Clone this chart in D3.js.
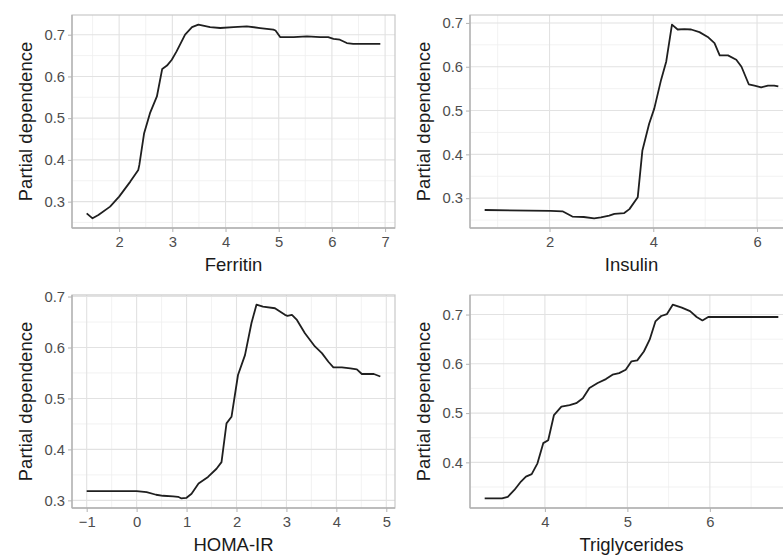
<!DOCTYPE html>
<html><head><meta charset="utf-8">
<script src="https://cdn.jsdelivr.net/npm/d3@7"></script>
<style>body{margin:0;background:#fff;} svg{display:block;font-family:"Liberation Sans",Arial,sans-serif;}</style>
</head><body><svg id="chart" width="783" height="555"></svg>
<script>
// ---- data ----
const ferritinX = [1.39,1.50,1.61,1.83,2.00,2.21,2.36,2.38,2.47,2.58,2.71,2.81,2.90,2.99,3.08,3.24,3.37,3.49,3.71,3.90,4.15,4.40,4.65,4.90,4.94,5.03,5.28,5.53,5.78,5.93,6.03,6.15,6.28,6.40,6.91];
const ferritinY = [0.272,0.260,0.268,0.288,0.312,0.348,0.376,0.388,0.464,0.512,0.552,0.618,0.626,0.640,0.660,0.700,0.718,0.724,0.718,0.716,0.718,0.720,0.716,0.712,0.710,0.694,0.694,0.696,0.694,0.694,0.690,0.688,0.680,0.678,0.678];

const insulinX = [0.75,2.02,2.25,2.44,2.66,2.86,2.99,3.15,3.25,3.44,3.54,3.70,3.79,3.92,4.02,4.15,4.25,4.36,4.47,4.60,4.73,4.89,5.05,5.18,5.28,5.44,5.60,5.70,5.84,5.95,6.08,6.21,6.33,6.41];
const insulinY = [0.273,0.271,0.270,0.258,0.257,0.254,0.256,0.260,0.264,0.266,0.275,0.302,0.409,0.470,0.505,0.570,0.612,0.696,0.685,0.686,0.685,0.679,0.668,0.654,0.626,0.626,0.616,0.600,0.560,0.557,0.553,0.557,0.557,0.555];

const homaX = [-1.00,0.00,0.20,0.39,0.53,0.73,0.83,0.89,1.00,1.10,1.24,1.43,1.60,1.70,1.80,1.90,2.03,2.17,2.30,2.40,2.53,2.77,2.97,3.02,3.11,3.21,3.37,3.57,3.71,3.84,3.94,4.11,4.28,4.41,4.51,4.75,4.88];
const homaY = [0.318,0.318,0.316,0.311,0.309,0.308,0.307,0.304,0.305,0.313,0.333,0.346,0.362,0.375,0.451,0.464,0.546,0.585,0.648,0.684,0.680,0.677,0.664,0.662,0.664,0.654,0.628,0.602,0.589,0.572,0.561,0.561,0.559,0.557,0.548,0.548,0.543];

const trigX = [3.27,3.48,3.55,3.63,3.71,3.77,3.84,3.91,3.98,4.04,4.11,4.20,4.30,4.38,4.46,4.54,4.64,4.74,4.82,4.90,4.98,5.05,5.12,5.20,5.27,5.34,5.41,5.48,5.55,5.66,5.76,5.84,5.91,5.98,6.83];
const trigY = [0.327,0.327,0.330,0.344,0.361,0.371,0.376,0.398,0.439,0.445,0.496,0.513,0.516,0.520,0.530,0.551,0.561,0.569,0.578,0.581,0.588,0.605,0.607,0.625,0.649,0.686,0.697,0.701,0.720,0.714,0.707,0.695,0.688,0.695,0.695];

const xTitles = ["Ferritin","Insulin","HOMA-IR","Triglycerides"];
const yTitle = "Partial dependence";
const ferritinXTicks = [2,3,4,5,6,7];
const insulinXTicks = [2,4,6];
const homaXTicks = [-1,0,1,2,3,4,5];
const trigXTicks = [4,5,6];
const ferritinYTicks = [0.3,0.4,0.5,0.6,0.7];
const insulinYTicks = [0.3,0.4,0.5,0.6,0.7];
const homaYTicks = [0.3,0.4,0.5,0.6,0.7];
const trigYTicks = [0.4,0.5,0.6,0.7];

// ---- layout ----
const panels = [
  {x: ferritinX, y: ferritinY, xt: ferritinXTicks, yt: ferritinYTicks, title: xTitles[0], left: 72, top: 15},
  {x: insulinX, y: insulinY, xt: insulinXTicks, yt: insulinYTicks, title: xTitles[1], left: 470, top: 15},
  {x: homaX, y: homaY, xt: homaXTicks, yt: homaYTicks, title: xTitles[2], left: 72, top: 295},
  {x: trigX, y: trigY, xt: trigXTicks, yt: trigYTicks, title: xTitles[3], left: 470, top: 295}
];
const PW = 323, PH = 213;
const svg = d3.select("#chart");
svg.append("rect").attr("width",783).attr("height",555).attr("fill","#fff");

function expand(ext){ const d = ext[1]-ext[0]; return [ext[0]-0.05*d, ext[1]+0.05*d]; }
function minors(ticks, dom){
  const step = ticks[1]-ticks[0];
  const all = [ticks[0]-step, ...ticks, ticks[ticks.length-1]+step];
  const m = [];
  for(let i=0;i<all.length-1;i++){ const v=(all[i]+all[i+1])/2; if(v>=dom[0]&&v<=dom[1]) m.push(v); }
  return m;
}

panels.forEach(p => {
  const xd = expand(d3.extent(p.x)), yd = expand(d3.extent(p.y));
  const xs = d3.scaleLinear().domain(xd).range([0, PW]);
  const ys = d3.scaleLinear().domain(yd).range([PH, 0]);
  const g = svg.append("g").attr("transform", `translate(${p.left},${p.top})`);
  const xt = p.xt.filter(v => v>=xd[0] && v<=xd[1]);
  const yt = p.yt.filter(v => v>=yd[0] && v<=yd[1]);
  // minor grid
  g.selectAll(".mx").data(minors(p.xt, xd)).join("line")
    .attr("x1", d=>xs(d)).attr("x2", d=>xs(d)).attr("y1",0).attr("y2",PH)
    .attr("stroke","#efefef").attr("stroke-width",0.8);
  g.selectAll(".my").data(minors(p.yt, yd)).join("line")
    .attr("y1", d=>ys(d)).attr("y2", d=>ys(d)).attr("x1",0).attr("x2",PW)
    .attr("stroke","#efefef").attr("stroke-width",0.8);
  // major grid
  g.selectAll(".Mx").data(xt).join("line")
    .attr("x1", d=>xs(d)).attr("x2", d=>xs(d)).attr("y1",0).attr("y2",PH)
    .attr("stroke","#e2e2e2").attr("stroke-width",1.1);
  g.selectAll(".My").data(yt).join("line")
    .attr("y1", d=>ys(d)).attr("y2", d=>ys(d)).attr("x1",0).attr("x2",PW)
    .attr("stroke","#e2e2e2").attr("stroke-width",1.1);
  // border
  g.append("rect").attr("x",0).attr("y",0).attr("width",PW).attr("height",PH)
    .attr("fill","none").attr("stroke","#c8c8c8").attr("stroke-width",1.2);
  g.append("line").attr("x1",0).attr("x2",PW).attr("y1",PH).attr("y2",PH).attr("stroke","#b0b0b0").attr("stroke-width",1.3);
  g.append("line").attr("x1",0).attr("x2",0).attr("y1",0).attr("y2",PH).attr("stroke","#b0b0b0").attr("stroke-width",1.3);
  // axes
  const xa = g.append("g").attr("transform",`translate(0,${PH})`)
    .call(d3.axisBottom(xs).tickValues(xt).tickSize(4).tickPadding(4).tickFormat(d3.format("d")));
  const ya = g.append("g")
    .call(d3.axisLeft(ys).tickValues(yt).tickSize(4).tickPadding(3).tickFormat(d3.format(".1f")));
  [xa, ya].forEach(a => {
    a.select(".domain").remove();
    a.selectAll(".tick line").attr("stroke","#b3b3b3");
    a.selectAll(".tick text").attr("fill","#4d4d4d").style("font-size","14.8px").style("font-family","'Liberation Sans',Arial,sans-serif");
  });
  // line
  const data = p.x.map((v,i)=>[v,p.y[i]]);
  g.append("path").datum(data)
    .attr("d", d3.line().x(d=>xs(d[0])).y(d=>ys(d[1])))
    .attr("fill","none").attr("stroke","#1f1f1f").attr("stroke-width",1.8).attr("stroke-linejoin","round");
  // titles
  g.append("text").attr("x", PW/2).attr("y", PH+43).attr("text-anchor","middle")
    .style("font-size","18.5px").attr("fill","#1a1a1a").text(p.title);
  g.append("text").attr("transform", `translate(-40,${PH/2}) rotate(-90)`)
    .attr("text-anchor","middle").style("font-size","18.5px").attr("fill","#1a1a1a").text(yTitle);
});
</script>
</body></html>
